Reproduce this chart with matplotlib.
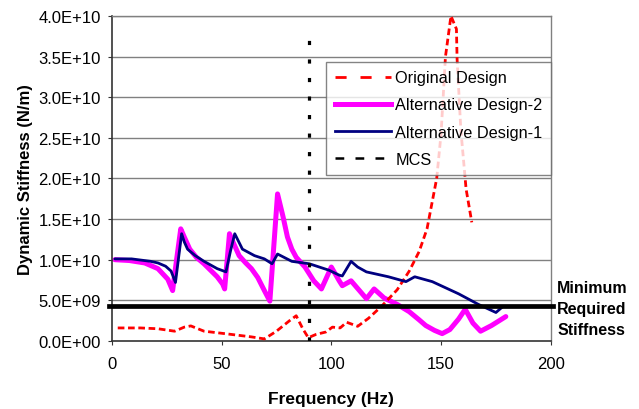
import matplotlib
matplotlib.use("Agg")
import matplotlib.pyplot as plt
from matplotlib.lines import Line2D

plt.rcParams['font.family'] = ['Liberation Sans', 'DejaVu Sans']

# Alternative Design-2 (magenta)
alt2_f = [1.4, 8, 15, 21, 25.5, 27.7, 29.5, 31.4, 33, 35.5, 38.5, 42, 45, 48, 50.5, 51.4, 53.6, 55.5, 58, 61, 63.6, 66.5, 69.5, 72, 75.5, 78, 80, 82, 84, 88, 92, 95.5, 100, 103.6, 105, 109, 112.5, 116, 119.5, 124, 130, 135.5, 140, 143, 147, 150.5, 154, 158, 161, 164.5, 168, 173, 179.5]
alt2_v = [1.0e10, 9.9e9, 9.6e9, 8.9e9, 7.6e9, 6.2e9, 1.0e10, 1.38e10, 1.28e10, 1.13e10, 1.03e10, 9.5e9, 8.7e9, 7.9e9, 7.0e9, 6.4e9, 1.32e10, 1.2e10, 1.05e10, 9.6e9, 8.9e9, 7.8e9, 6.2e9, 4.9e9, 1.81e10, 1.53e10, 1.28e10, 1.13e10, 1.03e10, 9.1e9, 7.4e9, 6.4e9, 9.1e9, 7.4e9, 6.8e9, 7.4e9, 6.3e9, 5.2e9, 6.4e9, 5.3e9, 4.5e9, 3.6e9, 2.6e9, 1.9e9, 1.3e9, 0.9e9, 1.4e9, 2.7e9, 3.9e9, 2.2e9, 1.2e9, 1.9e9, 3.0e9]

# Alternative Design-1 (navy)
alt1_f = [1.4, 9, 17.7, 21, 24.5, 27, 29, 30.3, 31.8, 33, 34.5, 38, 42, 48, 52, 54, 56, 59.5, 65, 69.5, 73, 75.5, 82, 90, 99, 103.6, 105, 109, 112, 116, 126, 134, 138, 146, 158, 167, 175, 178]
alt1_v = [1.01e10, 1.01e10, 9.8e9, 9.6e9, 9.2e9, 8.6e9, 7.2e9, 1.0e10, 1.32e10, 1.22e10, 1.13e10, 1.05e10, 9.8e9, 8.9e9, 8.5e9, 1.1e10, 1.32e10, 1.13e10, 1.05e10, 1.01e10, 9.5e9, 1.07e10, 9.8e9, 9.5e9, 8.7e9, 8.1e9, 8.0e9, 9.8e9, 9.1e9, 8.5e9, 7.9e9, 7.3e9, 7.9e9, 7.3e9, 5.8e9, 4.5e9, 3.5e9, 4.2e9]

# Original Design (red dashed)
orig_f = [2.7, 13, 21, 28.6, 33, 36, 42, 53, 63.6, 69.5, 75, 81, 84, 87, 89.5, 93, 97.5, 100.5, 104, 107, 112, 117, 123, 130, 135.5, 140, 143.6, 148, 150, 152, 154.5, 157, 157.3, 159, 161.4, 164]
orig_v = [1.6e9, 1.6e9, 1.5e9, 1.2e9, 1.7e9, 1.85e9, 1.2e9, 0.85e9, 0.5e9, 0.25e9, 1.2e9, 2.5e9, 3.1e9, 1.5e9, 0.4e9, 0.8e9, 1.1e9, 1.7e9, 1.6e9, 2.3e9, 1.8e9, 2.8e9, 4.3e9, 6.3e9, 8.6e9, 11.0e9, 13.8e9, 20.0e9, 25.5e9, 35.0e9, 40.0e9, 38.4e9, 34.7e9, 26.0e9, 18.7e9, 14.6e9]

# MCS and minimum required stiffness
mcs_freq = 90
mcs_top = 3.85e10
min_stiffness = 4.3e9

y_ticks = [0, 5e9, 1e10, 1.5e10, 2e10, 2.5e10, 3e10, 3.5e10, 4e10]
y_tick_labels = ["0.0E+00", "5.0E+09", "1.0E+10", "1.5E+10", "2.0E+10", "2.5E+10", "3.0E+10", "3.5E+10", "4.0E+10"]
x_ticks = [0, 50, 100, 150, 200]

fig = plt.figure(figsize=(6.39, 4.10), dpi=100)
ax = fig.add_axes([0.175, 0.166, 0.687, 0.7925])

ax.set_xlim(0, 200)
ax.set_ylim(0, 4e10)

for y in y_ticks[1:]:
    ax.axhline(y, color='#808080', lw=1.0, zorder=0)

ax.plot(orig_f, orig_v, color='#ff0000', lw=2.0, ls=(0, (2.4, 1.3)), zorder=3)
ax.plot(alt2_f, alt2_v, color='#ff00ff', lw=3.6, zorder=2,
        solid_joinstyle='round', solid_capstyle='round')
ax.plot(alt1_f, alt1_v, color='#000080', lw=2.0, zorder=4,
        solid_joinstyle='round', solid_capstyle='round')
ax.plot([mcs_freq, mcs_freq], [0, mcs_top], color='black', lw=2.3,
        ls=(0, (1.3, 4.5)), zorder=5)

ax.plot([-1.5, 201], [min_stiffness, min_stiffness], color='black', lw=3.4,
        clip_on=False, zorder=6)

ax.set_xticks(x_ticks)
ax.set_yticks(y_ticks)
ax.set_yticklabels(y_tick_labels)
ax.tick_params(axis='both', labelsize=12, direction='out', length=3, color='#333333')
ax.tick_params(axis='x', pad=8)
ax.tick_params(axis='y', pad=5)

for side in ['left', 'bottom']:
    ax.spines[side].set_color('#333333')
    ax.spines[side].set_linewidth(1.2)
for side in ['top', 'right']:
    ax.spines[side].set_color('#808080')
    ax.spines[side].set_linewidth(1.0)

ax.set_xlabel('Frequency (Hz)', fontsize=12.5, fontweight='bold', labelpad=14)
ax.set_ylabel('Dynamic Stiffness (N/m)', fontsize=12, fontweight='bold', labelpad=4)

handles = [
    Line2D([], [], color='#ff0000', lw=2.0, ls=(0, (4, 5))),
    Line2D([], [], color='#ff00ff', lw=3.6),
    Line2D([], [], color='#000080', lw=2.0),
    Line2D([], [], color='black', lw=1.8, ls=(0, (3.5, 4.5))),
]
labels = ['Original Design', 'Alternative Design-2', 'Alternative Design-1', 'MCS']
leg = ax.legend(handles, labels, loc='upper right',
                bbox_to_anchor=(1.0, 0.858), fontsize=11.7, frameon=True, fancybox=False,
                edgecolor='#666666', handlelength=3.5, handletextpad=0.25,
                borderpad=0.5, labelspacing=0.75, borderaxespad=0.0)
leg.get_frame().set_linewidth(1.0)

fig.text(0.872, 0.244, 'Minimum\nRequired\nStiffness', fontsize=11.5, fontweight='bold',
         va='center', ha='left', multialignment='left', linespacing=1.5)

fig.savefig('out.png', dpi=100)
